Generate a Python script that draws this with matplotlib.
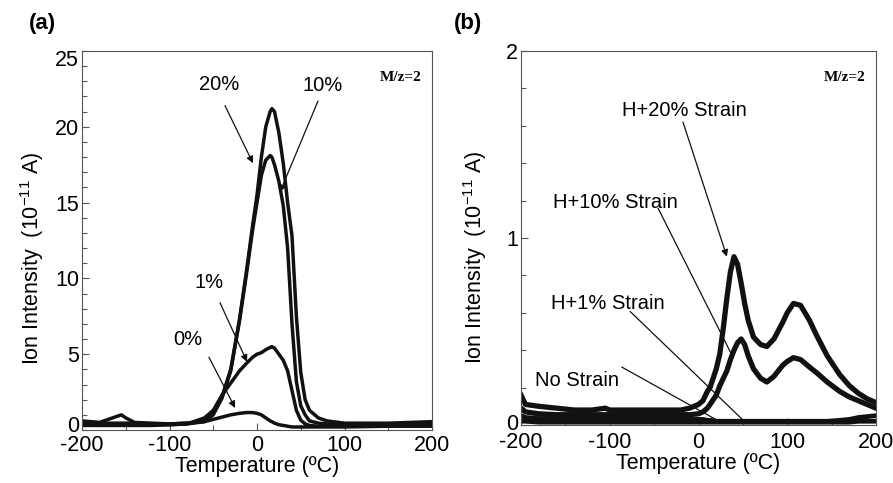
import matplotlib
matplotlib.use("Agg")
import matplotlib.pyplot as plt
from matplotlib.ticker import MultipleLocator
from matplotlib.transforms import ScaledTranslation

plt.rcParams['font.family'] = ['Liberation Sans', 'DejaVu Sans']
plt.rcParams['axes.unicode_minus'] = False
plt.rcParams['mathtext.default'] = 'regular'

# ---------------- Panel (a) data ----------------
temp_a = [-200, -180, -160, -155, -150, -140, -120, -100, -80, -60, -50, -40, -30, -20,
          -12, -5, 0, 5, 10, 15, 17, 20, 25, 30, 35, 40, 45, 50, 55, 60, 70, 80, 100, 150, 200]
a_20 = [0.6, 0.5, 0.9, 1.0, 0.8, 0.5, 0.45, 0.4, 0.45, 0.6, 1.1, 2.2, 4.0, 7.3,
        10.5, 13.5, 15.5, 18.0, 20.0, 21.0, 21.2, 21.0, 19.6, 17.6, 15.0, 12.8, 7.5, 3.8, 2.0, 1.3, 0.8, 0.6, 0.45, 0.45, 0.55]
a_10 = [0.5, 0.45, 0.45, 0.45, 0.45, 0.45, 0.4, 0.4, 0.45, 0.55, 1.0, 2.1, 3.9, 7.2,
        10.3, 13.2, 15.0, 16.8, 17.8, 18.1, 18.0, 17.5, 16.4, 14.8, 12.0, 7.0, 3.2, 1.6, 1.0, 0.6, 0.45, 0.4, 0.35, 0.4, 0.45]
a_1 = [0.35, 0.35, 0.35, 0.35, 0.35, 0.35, 0.35, 0.35, 0.4, 0.8, 1.3, 2.3, 3.1, 3.9,
       4.4, 4.8, 5.0, 5.1, 5.3, 5.45, 5.5, 5.4, 5.0, 4.6, 3.9, 2.6, 1.3, 0.65, 0.4, 0.3, 0.25, 0.25, 0.25, 0.25, 0.3]
a_0 = [0.3, 0.3, 0.3, 0.3, 0.3, 0.3, 0.3, 0.35, 0.4, 0.55, 0.7, 0.85, 1.0, 1.1,
       1.15, 1.15, 1.1, 1.0, 0.8, 0.6, 0.55, 0.45, 0.35, 0.3, 0.25, 0.2, 0.2, 0.2, 0.2, 0.2, 0.2, 0.2, 0.2, 0.25, 0.25]

# ---------------- Panel (b) data ----------------
temp_b = [-200, -195, -180, -160, -140, -120, -105, -100, -80, -60, -40, -20, -10, 0, 5, 10, 13,
          20, 24, 28, 32, 36, 40, 44, 48, 52, 56, 62, 70, 77, 85, 95, 100, 107, 115, 125, 133,
          145, 159, 170, 180, 190, 200]
b_20 = [0.16, 0.11, 0.10, 0.09, 0.08, 0.08, 0.09, 0.08, 0.08, 0.08, 0.08, 0.08, 0.09, 0.11, 0.13, 0.18, 0.20,
        0.30, 0.38, 0.52, 0.68, 0.82, 0.90, 0.86, 0.76, 0.65, 0.56, 0.47, 0.43, 0.42, 0.46, 0.55, 0.60, 0.65, 0.64, 0.56, 0.48,
        0.37, 0.27, 0.21, 0.17, 0.14, 0.12]
b_10 = [0.09, 0.07, 0.06, 0.055, 0.055, 0.055, 0.055, 0.055, 0.055, 0.055, 0.055, 0.055, 0.055, 0.06, 0.07, 0.09, 0.11,
        0.16, 0.21, 0.25, 0.29, 0.35, 0.40, 0.44, 0.46, 0.43, 0.37, 0.30, 0.25, 0.23, 0.26, 0.32, 0.34, 0.36, 0.35, 0.31, 0.28,
        0.23, 0.18, 0.15, 0.13, 0.11, 0.09]
b_1 = [0.05, 0.04, 0.035, 0.035, 0.035, 0.035, 0.035, 0.035, 0.035, 0.035, 0.035, 0.035, 0.03, 0.03, 0.03, 0.025, 0.025,
       0.02, 0.02, 0.02, 0.02, 0.02, 0.02, 0.02, 0.02, 0.02, 0.02, 0.02, 0.02, 0.02, 0.02, 0.02, 0.02, 0.02, 0.02, 0.02, 0.02,
       0.02, 0.025, 0.03, 0.04, 0.045, 0.05]
b_0 = [0.02, 0.02, 0.015, 0.015, 0.015, 0.015, 0.015, 0.015, 0.015, 0.015, 0.015, 0.015, 0.015, 0.015, 0.015, 0.015, 0.015,
       0.015, 0.015, 0.015, 0.015, 0.015, 0.015, 0.015, 0.015, 0.015, 0.015, 0.015, 0.015, 0.015, 0.015, 0.015, 0.015, 0.015, 0.015, 0.015, 0.015,
       0.015, 0.015, 0.015, 0.02, 0.02, 0.02]

W, H = 893, 483
fig = plt.figure(figsize=(W / 100, H / 100), dpi=100)

def px_axes(l, r, t, b):
    return fig.add_axes([l / W, (H - b) / H, (r - l) / W, (b - t) / H])

axa = px_axes(82, 432, 51, 430)
axb = px_axes(521, 876, 51, 425)

lc = '#111111'
for T, V in [(temp_a, a_0), (temp_a, a_1), (temp_a, a_10), (temp_a, a_20)]:
    axa.plot(T, V, color=lc, lw=2.5, solid_joinstyle='round')
for T, V, lw in [(temp_b, b_0, 3.4), (temp_b, b_1, 3.4), (temp_b, b_10, 3.8), (temp_b, b_20, 3.8)]:
    axb.plot(T, V, color=lc, lw=lw, solid_joinstyle='round')

fs = 15.5
for ax, ymax, ymaj, ymin, xpad in [(axa, 25, 5, 1, 3.5), (axb, 2, 1, 0.2, 5)]:
    ax.set_xlim(-200, 200)
    ax.set_ylim(0, ymax)
    ax.xaxis.set_major_locator(MultipleLocator(100))
    ax.xaxis.set_minor_locator(MultipleLocator(50))
    ax.yaxis.set_major_locator(MultipleLocator(ymaj))
    ax.yaxis.set_minor_locator(MultipleLocator(ymin))
    ax.tick_params(which='both', direction='in', top=False, right=False, labelsize=fs,
                   color='#555555', width=0.8)
    ax.tick_params(axis='y', pad=2)
    ax.tick_params(axis='x', pad=xpad)
    ax.tick_params(which='major', length=5)
    ax.tick_params(which='minor', length=3.5)
    for s in ax.spines.values():
        s.set_color('#555555')
        s.set_linewidth(0.8)
    ax.set_xlabel('Temperature (ºC)', fontsize=fs, labelpad=0)
    ax.set_ylabel('Ion Intensity  (10$^{-11}$ A)', fontsize=fs)
    ax.text(0.97, 0.93, 'M/z=2', transform=ax.transAxes, ha='right', va='center',
            family='Liberation Serif', fontweight='bold', fontsize=11)

axa.yaxis.set_label_coords(-0.104, 0.454)
axb.yaxis.set_label_coords(-0.090, 0.447)

# end y tick labels sit inside the axis range, as in the reference
fig.canvas.draw()
shifts = {(0, '0'): 6, (0, '25'): -7, (1, '0'): 3}
for i, ax in enumerate([axa, axb]):
    for lab in ax.get_yticklabels():
        d = shifts.get((i, lab.get_text()))
        if d:
            lab.set_transform(lab.get_transform() + ScaledTranslation(0, d / 100, fig.dpi_scale_trans))

fig.text(42 / W, 1 - 23 / H, '(a)', fontsize=16, fontweight='bold', ha='center', va='center')
fig.text(468 / W, 1 - 23 / H, '(b)', fontsize=16, fontweight='bold', ha='center', va='center')

afs = 14.5
head = dict(arrowstyle='-|>', color=lc, lw=0.9, mutation_scale=10, shrinkA=0, shrinkB=0)
plain = dict(arrowstyle='-', color=lc, lw=0.9, shrinkA=0, shrinkB=0)

# panel (a) annotations
for txt, tp, tail, tip in [('20%', (-43, 22.8), (-36.6, 21.4), (-4.6, 17.6)),
                           ('10%', (75, 22.7), (69.7, 21.7), (26.3, 15.7)),
                           ('1%', (-55, 9.75), (-42.3, 8.4), (-11.4, 4.5)),
                           ('0%', (-79, 6.0), (-54.9, 4.8), (-25, 1.45))]:
    axa.text(tp[0], tp[1], txt, fontsize=afs, ha='center', va='center')
    axa.annotate('', xy=tip, xytext=tail, arrowprops=head)

# panel (b) annotations
for txt, tp, tail, tip, ap in [('H+20% Strain', (-15.8, 1.68), (-17.5, 1.62), (32, 0.90), head),
                               ('H+10% Strain', (-93.5, 1.19), (-45.6, 1.16), (37.4, 0.376), plain),
                               ('H+1% Strain', (-102, 0.65), (-77, 0.607), (50, 0.027), plain),
                               ('No Strain', (-137, 0.24), (-86.5, 0.31), (20.5, 0.027), plain)]:
    axb.text(tp[0], tp[1], txt, fontsize=afs, ha='center', va='center')
    axb.annotate('', xy=tip, xytext=tail, arrowprops=ap)

fig.savefig('out.png', dpi=100)
